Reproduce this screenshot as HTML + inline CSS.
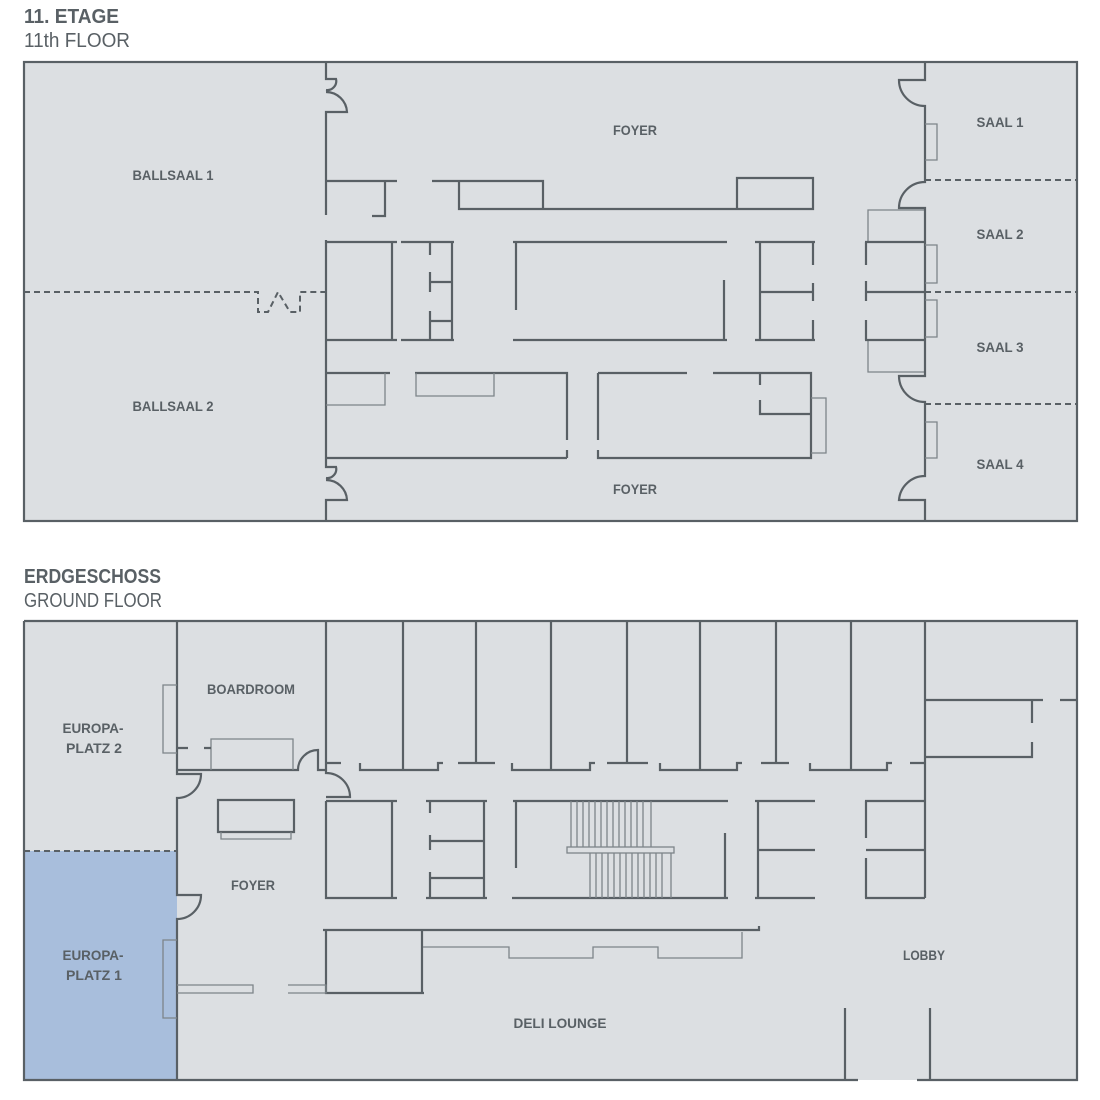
<!DOCTYPE html>
<html><head><meta charset="utf-8"><style>
html,body{margin:0;padding:0;background:#fff;}
svg{display:block}
.w{stroke:#596065;stroke-width:2.2;fill:none}
.t{stroke:#7d8489;stroke-width:1.3;fill:none}
.d{stroke:#596065;stroke-width:2;fill:none;stroke-dasharray:6 4}
.l{font-family:"Liberation Sans Narrow","Liberation Sans",sans-serif;font-weight:bold;font-size:14px;fill:#596065;text-anchor:middle}
.h1{font-family:"Liberation Sans Narrow","Liberation Sans",sans-serif;font-weight:bold;font-size:20px;fill:#596065}
.h2{font-family:"Liberation Sans Narrow","Liberation Sans",sans-serif;font-size:20px;fill:#596065}
</style></head><body>
<svg width="1100" height="1100" viewBox="0 0 1100 1100" xmlns="http://www.w3.org/2000/svg">
<text x="24" y="23" class="h1" textLength="95" lengthAdjust="spacingAndGlyphs">11. ETAGE</text>
<text x="24" y="47" class="h2" textLength="106" lengthAdjust="spacingAndGlyphs">11th FLOOR</text>
<text x="24" y="583" class="h1" textLength="137" lengthAdjust="spacingAndGlyphs">ERDGESCHOSS</text>
<text x="24" y="607" class="h2" textLength="138" lengthAdjust="spacingAndGlyphs">GROUND FLOOR</text>

<!-- TOP FLOOR -->
<rect x="24" y="62" width="1053" height="459" style="fill:#dcdfe2;stroke:#596065;stroke-width:2.2"/>
<path class="w" d="M326,62V79H336A9,9 0 0 1 326,90 M326,92A21,21 0 0 1 347,112H326V215 M326,181H397 M385,181V216H372"/>
<path class="w" d="M326,240V458 M326,458V467H336A9,9 0 0 1 326,478 M326,480A21,21 0 0 1 347,500H326V521"/>
<path class="d" d="M24,292H258V312H268L278,292L290,312H300V292H326"/>
<path class="w" d="M432,181H543V209H459V181 M543,209H737V178H813V209H737"/>
<path class="w" d="M326,242H397M392,242V340M326,340H397"/>
<path class="w" d="M401,242H454M452,242V340M401,340H454M430,242V255M430,272V292M430,282H452M430,311V340M430,321H452"/>
<path class="w" d="M513,242H727M516,242V310M724,280V340M513,340H727"/>
<path class="w" d="M755,242H815M760,242V340M813,242V265M813,283V301M760,292H813M813,320V340M755,340H815"/>
<path class="t" d="M868,242V210H925M868,340V372H925"/>
<path class="w" d="M865,242H925M865,292H925M865,340H925M866,242V265M866,281V301M866,320V340"/>
<path class="w" d="M925,62V80H899A26,26 0 0 0 925,106V182A26,26 0 0 0 899,208H925V376H899A26,26 0 0 0 925,402V476A26,26 0 0 0 899,500H925V521"/>
<path class="t" d="M925,124H937V160H925M925,245H937V283H925M925,300H937V337H925M925,422H937V458H925"/>
<path class="d" d="M925,180H1077M925,292H1077M925,404H1077"/>
<path class="w" d="M326,373H390M415,373H567V440M567,450V458M326,458H567"/>
<path class="t" d="M326,405H385V373M416,373V396H494V373"/>
<path class="w" d="M598,373H687M713,373H811V458H598V450M598,440V373M760,373V385M760,400V414H811"/>
<path class="t" d="M811,398H826V453H811"/>
<text x="635" y="135" class="l" textLength="44" lengthAdjust="spacingAndGlyphs">FOYER</text>
<text x="635" y="494" class="l" textLength="44" lengthAdjust="spacingAndGlyphs">FOYER</text>
<text x="173" y="180" class="l" textLength="81" lengthAdjust="spacingAndGlyphs">BALLSAAL 1</text>
<text x="173" y="411" class="l" textLength="81" lengthAdjust="spacingAndGlyphs">BALLSAAL 2</text>
<text x="1000" y="127" class="l" textLength="47" lengthAdjust="spacingAndGlyphs">SAAL 1</text>
<text x="1000" y="239" class="l" textLength="47" lengthAdjust="spacingAndGlyphs">SAAL 2</text>
<text x="1000" y="352" class="l" textLength="47" lengthAdjust="spacingAndGlyphs">SAAL 3</text>
<text x="1000" y="469" class="l" textLength="47" lengthAdjust="spacingAndGlyphs">SAAL 4</text>

<!-- GROUND FLOOR -->
<rect x="24" y="621" width="1053" height="459" fill="#dcdfe2"/>
<rect x="24" y="851" width="153" height="229" fill="#a8bedc"/>
<path class="w" d="M24,621H1077V1080H917M858,1080H24V621"/>
<path class="d" d="M24,851H177"/>
<path class="w" d="M177,621V774H201A24,24 0 0 1 177,798V895H201A24,24 0 0 1 177,919V1080"/>
<path class="t" d="M177,685H163V753H177M177,940H163V1018H177"/>
<path class="w" d="M177,770H298A20,20 0 0 1 318,750V770H326 M326,621V773A24,24 0 0 1 350,797H326"/>
<path class="t" d="M211,770V739H293V770"/>
<path class="w" d="M177,748H188M204,748H211"/>
<path class="w" d="M218,800H294V832H218Z"/>
<path class="t" d="M221,832V839H291V832"/>
<path class="w" d="M403,621V770M476,621V763M551,621V770M627,621V763M700,621V770M776,621V763M851,621V770M925,621V898"/>
<path class="w" d="M326,763H341M360,763V770H438V763H443M458,763H495M512,763V770H590V763H595M607,763H648M660,763V770H737V763H742M761,763H789M810,763V770H887V763H892M910,763H925"/>
<path class="w" d="M925,700H1043M1060,700H1077M1032,700V723M1032,742V757H925"/>
<path class="w" d="M326,801H397M392,801V898M326,801V898H397"/>
<path class="w" d="M426,801H487M484,801V898M426,898H487M430,801V813M430,835V850M430,841H484M430,872V898M430,878H484"/>
<path class="w" d="M513,801H728M516,801V868M725,833V898M512,898H728"/>
<g class="t">
<path d="M571,801V847M577,801V847M583,801V847M589,801V847M595,801V847M601,801V847M607,801V847M613,801V847M619,801V847M625,801V847M631,801V847M637,801V847M643,801V847M651,801V847"/>
<path d="M590,853V898M596,853V898M602,853V898M608,853V898M614,853V898M620,853V898M626,853V898M632,853V898M638,853V898M644,853V898M650,853V898M656,853V898M662,853V898M671,853V898"/>
<rect x="567" y="847" width="107" height="6"/>
</g>
<path class="w" d="M755,801H815M758,801V898M758,850H815M755,898H815"/>
<path class="w" d="M865,801H925M866,801V838M866,858V898M866,850H925M865,898H925"/>
<path class="w" d="M323,930H417M326,930V993H424M422,930V993M417,930H759V926"/>
<path class="t" d="M423,947H509V958H593V947H658V958H742V932"/>
<path class="t" d="M177,985H253V993H177M288,985H326V993H288"/>
<path class="w" d="M845,1008V1080M930,1008V1080"/>
<text x="251" y="694" class="l" textLength="88" lengthAdjust="spacingAndGlyphs">BOARDROOM</text>
<text x="93" y="733" class="l" textLength="61" lengthAdjust="spacingAndGlyphs">EUROPA-</text>
<text x="94" y="753" class="l" textLength="56" lengthAdjust="spacingAndGlyphs">PLATZ 2</text>
<text x="253" y="890" class="l" textLength="44" lengthAdjust="spacingAndGlyphs">FOYER</text>
<text x="93" y="960" class="l" textLength="61" lengthAdjust="spacingAndGlyphs">EUROPA-</text>
<text x="94" y="980" class="l" textLength="56" lengthAdjust="spacingAndGlyphs">PLATZ 1</text>
<text x="924" y="960" class="l" textLength="42" lengthAdjust="spacingAndGlyphs">LOBBY</text>
<text x="560" y="1028" class="l" textLength="93" lengthAdjust="spacingAndGlyphs">DELI LOUNGE</text>
</svg>
</body></html>
